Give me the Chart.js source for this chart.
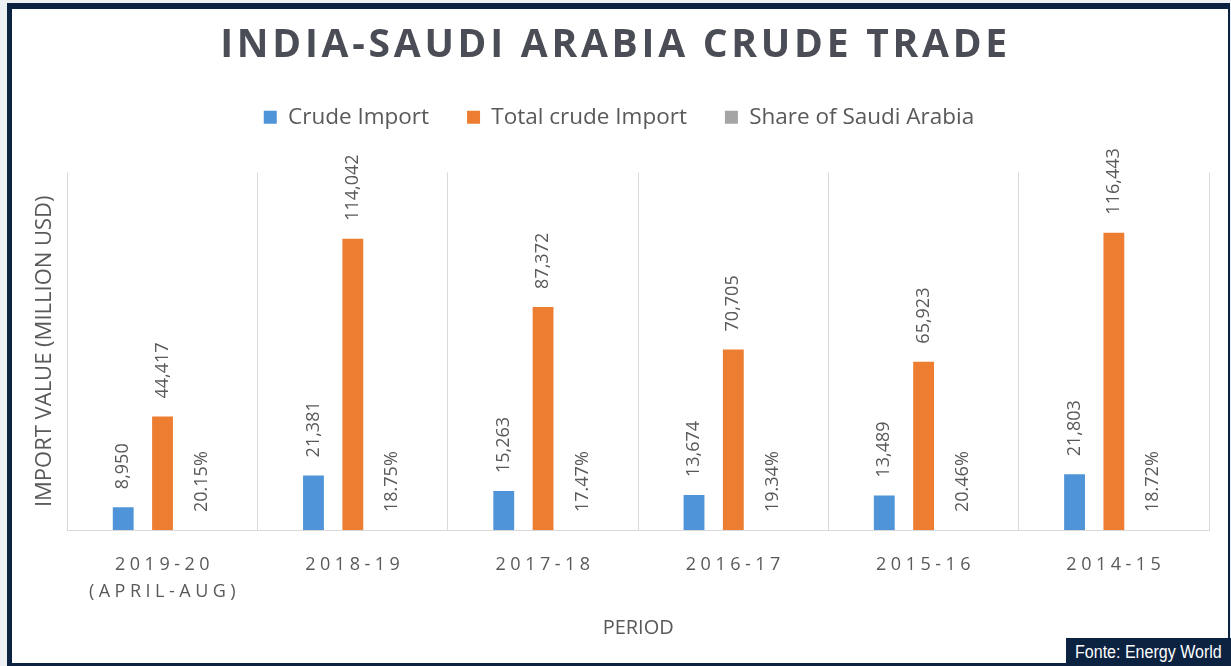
<!DOCTYPE html>
<html>
<head>
<meta charset="utf-8">
<script src="https://cdn.jsdelivr.net/npm/chart.js@4.4.1/dist/chart.umd.min.js"></script>
<style>
    body { margin: 0; background: #eef1f4; width: 1231px; height: 666px; overflow: hidden; position: relative; }
    #frame {
        position: absolute; left: 7px; top: 3px; width: 1223px; height: 663px;
        box-sizing: border-box; background: white;
        border-style: solid; border-color: #0b2240;
        border-width: 6px 2px 3px 5px;
    }
    #chart-title {
        position: absolute; left: 0; width: 1231px; top: 22px;
        text-align: center; font-family: "Open Sans", sans-serif; font-weight: bold;
        font-size: 39px; line-height: 39px; letter-spacing: 3.75px; color: #4b4d56;
        z-index: 2;
    }
    #source {
        position: absolute; left: 1066px; top: 638px; width: 165px; height: 28px;
        background: #0b2240; color: white; z-index: 3;
        font-family: "Liberation Sans", Arial, sans-serif;
        font-size: 18px; line-height: 28px; text-align: center; white-space: nowrap;
    }
    #source span { display: inline-block; transform: scaleX(0.89); }
    #myChart { position: absolute; left: 0; top: 0; z-index: 1; }
</style>
</head>
<body>
<div id="frame"></div>
<div id="chart-title">INDIA-SAUDI ARABIA CRUDE TRADE</div>
<canvas id="myChart" width="1231" height="666"></canvas>
<div id="source"><span>Fonte: Energy World</span></div>
<script>
// values
var categories = [['2019-20', '(APRIL-AUG)'], '2018-19', '2017-18', '2016-17', '2015-16', '2014-15'];
var crude_import = [8950, 21381, 15263, 13674, 13489, 21803];
var total_crude_import = [44417, 114042, 87372, 70705, 65923, 116443];
var share_saudi = [20.15, 18.75, 17.47, 19.34, 20.46, 18.72]; // percent
var y_max = 140000;

var label_color = '#595959';
var font_family = '"Open Sans", sans-serif';

// extra room between legend and plot
var legend_gap = {
    id: 'legend_gap',
    beforeInit(chart) {
        var fit = chart.legend.fit;
        chart.legend.fit = function () {
            fit.bind(chart.legend)();
            this.height += 34;
        };
    }
};

// rotated value labels above each bar
var bar_labels = {
    id: 'bar_labels',
    afterDatasetsDraw(chart) {
        var ctx = chart.ctx;
        ctx.save();
        ctx.font = '18px ' + font_family;
        ctx.fillStyle = label_color;
        ctx.textAlign = 'left';
        ctx.textBaseline = 'middle';
        chart.data.datasets.forEach(function (ds, d) {
            var meta = chart.getDatasetMeta(d);
            meta.data.forEach(function (bar, i) {
                var txt;
                if (d == 2) txt = share_saudi[i].toFixed(2) + '%';
                else txt = ds.data[i].toLocaleString('en-US');
                ctx.save();
                ctx.translate(bar.x, bar.y - 18);
                ctx.rotate(-Math.PI / 2);
                ctx.fillText(txt, 0, 0);
                ctx.restore();
            });
        });
        ctx.restore();
    }
};

// category labels with wide letter spacing
var spaced_ticks = {
    id: 'spaced_ticks',
    afterDraw(chart) {
        var ctx = chart.ctx;
        var x_scale = chart.scales.x;
        ctx.save();
        ctx.font = '18px ' + font_family;
        ctx.fillStyle = label_color;
        ctx.textAlign = 'center';
        ctx.textBaseline = 'middle';
        ctx.letterSpacing = '4.5px';
        x_scale.ticks.forEach(function (t, i) {
            var x = x_scale.getPixelForTick(i) + 2;
            var lines = [].concat(chart.data.labels[i]);
            lines.forEach(function (line, k) {
                ctx.fillText(line, x, x_scale.top + 35 + k * 27);
            });
        });
        ctx.restore();
    }
};

var ctx = document.getElementById('myChart');
var chart = new Chart(ctx, {
    type: 'bar',
    data: {
        labels: categories,
        datasets: [
            {
                label: 'Crude Import',
                data: crude_import,
                backgroundColor: '#4f93d8'
            },
            {
                label: 'Total crude Import',
                data: total_crude_import,
                backgroundColor: '#ed7d31'
            },
            {
                label: 'Share of Saudi Arabia',
                data: share_saudi.map(function (v) { return v / 100; }),
                backgroundColor: '#a5a5a5'
            }
        ]
    },
    options: {
        responsive: false,
        animation: false,
        barPercentage: 0.53,
        categoryPercentage: 0.62,
        layout: { padding: { left: 29, right: 22, top: 68, bottom: 10 } },
        scales: {
            x: {
                grid: { color: '#d9d9d9', drawTicks: false },
                border: { color: '#d9d9d9' },
                ticks: {
                    color: 'rgba(0,0,0,0)',
                    font: { family: font_family, size: 18, lineHeight: 1.5 },
                    padding: 10,
                    maxRotation: 0,
                    autoSkip: false
                },
                title: {
                    display: true,
                    text: 'PERIOD',
                    color: label_color,
                    font: { family: font_family, size: 20 },
                    padding: { top: 12, bottom: 16 }
                }
            },
            y: {
                min: 0,
                max: y_max,
                ticks: { display: false },
                grid: { display: false, drawTicks: false },
                border: { display: false },
                title: {
                    display: true,
                    text: 'IMPORT VALUE (MILLION USD)',
                    color: label_color,
                    font: { family: font_family, size: 22 },
                    padding: { top: 3, bottom: 9 }
                }
            }
        },
        plugins: {
            legend: {
                position: 'top',
                labels: {
                    color: label_color,
                    font: { family: font_family, size: 22.5 },
                    boxWidth: 13,
                    boxHeight: 13,
                    padding: 38
                }
            },
            tooltip: { enabled: false }
        }
    },
    plugins: [legend_gap, bar_labels, spaced_ticks]
});
</script>
</body>
</html>
